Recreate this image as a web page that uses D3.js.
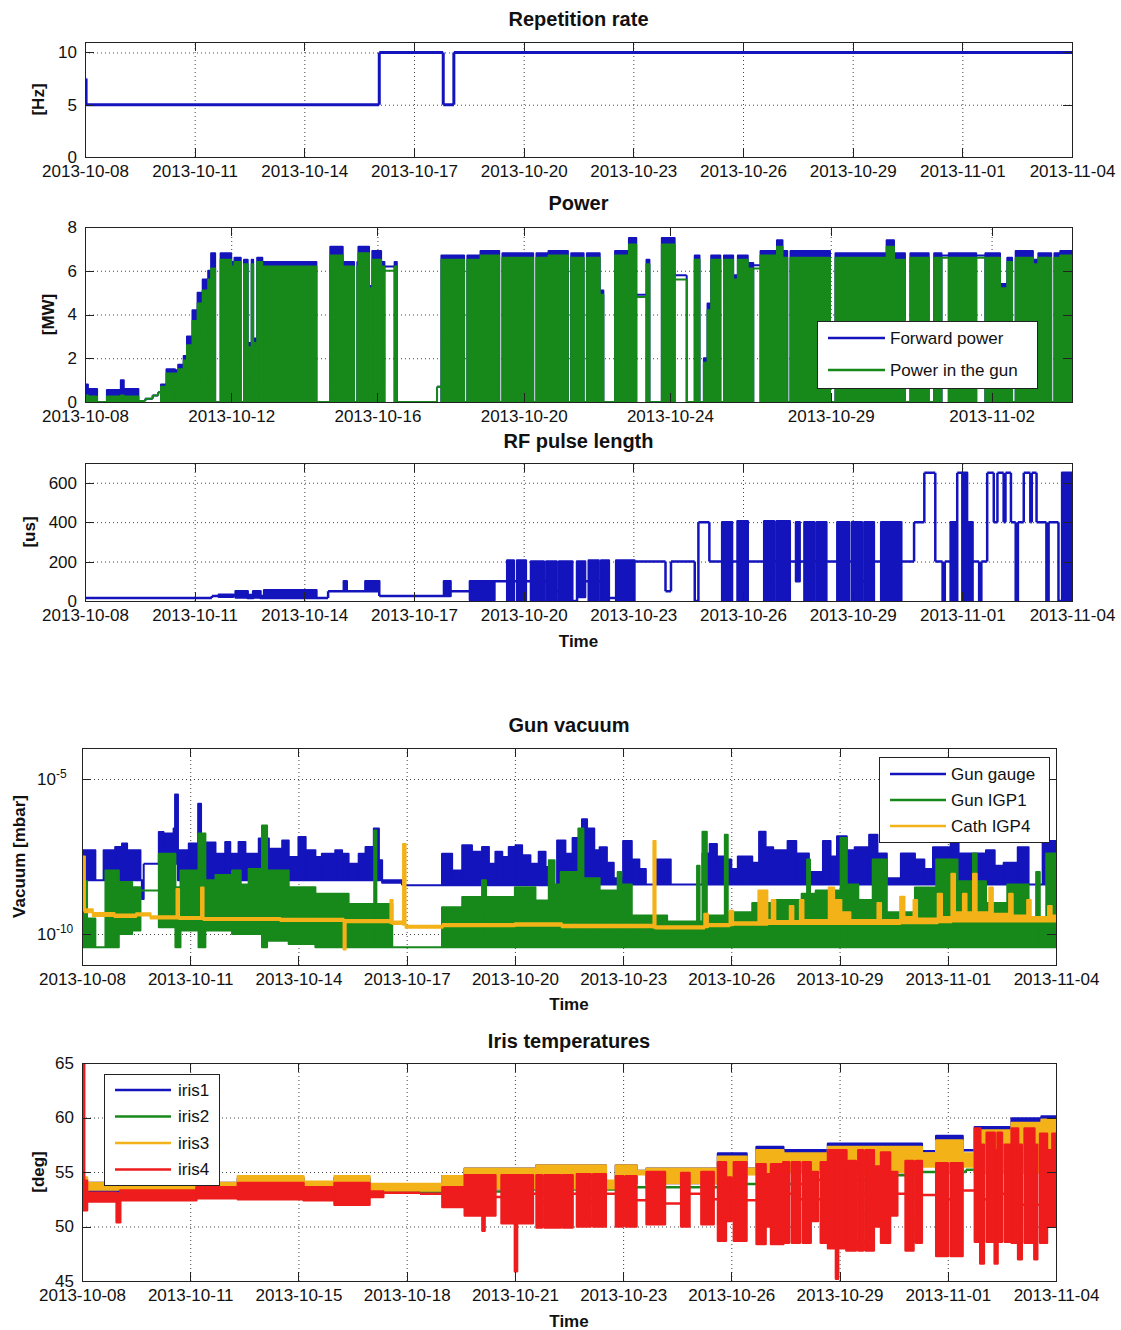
<!DOCTYPE html>
<html>
<head>
<meta charset="utf-8">
<script src="https://cdn.jsdelivr.net/npm/d3@7/dist/d3.min.js"></script>
<style>
  body { margin: 0; background: #fff; }
  svg text { font-family: "Liberation Sans", Arial, sans-serif; fill: #111; }
  .tick text { font-size: 17px; }
  .grid line { stroke: #444; stroke-dasharray: 1,3; }
  .grid path { display: none; }
  .ax path, .ax line { stroke: #222; shape-rendering: crispEdges; }
  .title { font-size: 20px; font-weight: bold; }
  .lab { font-size: 17px; font-weight: bold; }
  .leg text { font-size: 17px; }
</style>
</head>
<body>
<svg width="1121" height="1330"></svg>
<script>
// all times are days since 2013-10-08 00:00
var dayTicks = [0, 3, 6, 9, 12, 15, 18, 21, 24, 27];
var dayLabels = ["2013-10-08","2013-10-11","2013-10-14","2013-10-17","2013-10-20",
                 "2013-10-23","2013-10-26","2013-10-29","2013-11-01","2013-11-04"];
var powerTickDays = [0, 4, 8, 12, 16, 20.4, 24.8];
var powerLabels = ["2013-10-08","2013-10-12","2013-10-16","2013-10-20","2013-10-24","2013-10-29","2013-11-02"];
var irisLabels = ["2013-10-08","2013-10-11","2013-10-15","2013-10-18","2013-10-21",
                  "2013-10-23","2013-10-26","2013-10-29","2013-11-01","2013-11-04"];

// rows: [day, value] or [day, low, high] (fast switching drawn as a band), held until next row
var repRate = [[0, 7.5], [0.03, 5], [8.05, 10], [9.8, 5], [10.09, 10]];

// [day, forward MW, gun MW, dense switching to 0 ? 1 : 0]
var power = [
  [0,0.8,0.3,1],[0.08,0.6,0.25,1],[0.33,0,0,0],[0.6,0.55,0.25,1],[0.98,1.0,0.3,1],[1.06,0.6,0.25,1],
  [1.46,0.05,0.05,0],[1.65,0.15,0.15,0],[1.85,0.3,0.3,0],[2.0,0.45,0.45,0],[2.08,0.8,0.7,1],
  [2.23,1.5,1.3,1],[2.46,1.45,1.3,1],[2.55,1.7,1.5,1],[2.7,2.1,1.9,1],[2.79,3.0,2.6,1],[2.94,4.2,3.7,1],
  [3.08,5.0,4.5,1],[3.22,5.6,5.1,1],[3.37,6.0,5.6,1],[3.45,6.8,6.1,1],[3.56,0,0,0],[3.71,6.8,6.5,1],
  [4.0,6.4,6.2,1],[4.09,6.6,6.4,1],[4.26,0,0,0],[4.35,6.5,6.3,1],[4.45,2.7,2.5,1],[4.56,6.5,6.3,1],
  [4.6,2.9,2.7,1],[4.71,6.6,6.4,1],[4.85,6.4,6.2,1],[6.33,0,0,0],[6.71,7.1,6.7,1],[7.05,6.4,6.2,1],
  [7.36,0,0,0],[7.45,6.4,6.2,1],[7.48,7.1,6.8,1],[7.77,5.3,5.2,1],[7.86,6.9,6.5,1],[8.1,6.4,6.2,1],
  [8.19,6.2,6.0,0],[8.47,6.4,6.2,1],[8.53,0,0,0],[9.63,0.7,0.7,0],[9.75,6.7,6.5,1],[10.37,0,0,0],
  [10.46,6.7,6.5,1],[10.82,6.9,6.7,1],[11.33,0,0,0],[11.42,6.8,6.6,1],[12.26,0,0,0],[12.35,6.8,6.6,1],
  [12.68,6.9,6.7,1],[13.21,0,0,0],[13.3,6.8,6.6,1],[13.64,0,0,0],[13.73,6.8,6.6,1],[14.08,5.1,4.9,1],
  [14.18,0,0,0],[14.5,6.9,6.7,1],[14.88,7.5,7.2,1],[15.08,4.9,4.8,0],[15.36,6.5,6.3,1],[15.44,0,0,0],
  [15.78,7.5,7.2,1],[16.13,5.8,5.6,0],[16.46,0,0,0],[16.68,6.7,6.5,1],[16.81,0,0,0],[16.93,2.0,1.8,1],
  [17.03,4.5,4.2,1],[17.13,6.7,6.5,1],[17.38,0,0,0],[17.48,6.7,6.5,1],[17.73,5.8,5.6,1],[17.86,6.7,6.5,1],
  [18.13,6.35,6.1,1],[18.28,6.25,6.1,0],[18.48,6.9,6.7,1],[18.93,7.4,7.1,1],[19.08,6.9,6.6,1],
  [19.21,0,0,0],[19.3,6.9,6.6,1],[20.38,0,0,0],[20.53,6.8,6.6,1],[21.93,7.4,7.1,1],[22.13,6.8,6.5,1],
  [22.43,0,0,0],[22.58,6.8,6.6,1],[23.08,0,0,0],[23.23,6.8,6.6,1],[23.43,6.7,6.6,0],[23.63,6.8,6.6,1],
  [24.38,6.7,6.6,0],[24.63,6.8,6.6,1],[25.03,5.4,5.2,1],[25.23,6.6,6.4,1],[25.36,0,0,0],[25.46,6.9,6.6,1],
  [25.93,6.5,6.3,1],[26.08,6.8,6.6,1],[26.43,0,0,0],[26.52,6.8,6.6,1],[26.68,6.9,6.7,1]
];

var rfPulse = [
  [0,15],[3.47,25],[3.66,22,32],[4.05,30],[4.12,18,50],[4.45,15,30],[4.6,18,50],[4.8,15,25],[4.9,15,55],
  [6.33,15],[6.65,50],[7.08,50,100],[7.16,50],[7.67,50,100],[8.05,25],[9.82,25,100],[10.0,50],
  [10.53,5,100],[11.2,100],[11.55,0,205],[11.73,100],[11.82,0,205],[12.06,100],[12.2,0,200],[12.55,100],
  [12.62,0,200],[12.9,50],[12.97,0,200],[13.33,0],[13.46,20,200],[13.68,100],[13.78,0,205],[14.05,100],
  [14.12,0,205],[14.33,15],[14.53,0,205],[15.03,200],[15.88,50],[16.03,200],[16.68,0],[16.78,400],
  [17.08,200],[17.43,0,400],[17.7,200],[17.85,0,405],[18.13,200],[18.58,0,405],[18.85,200],[18.92,0,405],
  [19.28,200],[19.45,100,400],[19.55,200],[19.68,0,400],[19.95,200],[20.02,0,400],[20.28,200],
  [20.58,0,400],[20.9,200],[20.98,0,400],[21.25,100],[21.32,0,400],[21.58,200],[21.78,0,400],[22.33,200],
  [22.68,400],[22.96,650],[23.26,200],[23.46,0],[23.52,200],[23.68,0,400],[23.86,650],[24.0,0,650],
  [24.13,0,400],[24.28,200],[24.46,0],[24.52,200],[24.68,650],[24.86,400],[24.96,650],[25.13,400],
  [25.18,650],[25.33,400],[25.46,0],[25.52,400],[25.68,650],[25.86,400],[25.9,650],[26.03,400],[26.3,0],
  [26.36,400],[26.63,0],[26.73,0,650]
];

// vacuum, log10(mbar)
var gaugeLog = [
  [0,-8.27,-7.3],[0.37,-8.27],[0.6,-8.27,-7.3],[0.92,-8.27,-7.19],[1.11,-8.27,-7.08],[1.25,-8.27,-7.3],
  [1.62,-8.27],[1.66,-8.87,-8.27],[1.71,-7.73],[2.13,-7.73,-6.71],[2.26,-7.73,-6.76],[2.54,-7.73,-6.6],
  [2.58,-7.73,-5.5],[2.66,-8.27,-7.3],[2.96,-8.27,-7.08],[3.22,-8.27,-5.8],[3.3,-8.27,-7.05],
  [3.7,-8.27,-7.41],[3.97,-8.27,-7.03],[4.11,-8.27,-7.41],[4.34,-8.27,-7.03],[4.53,-8.27,-7.41],
  [4.9,-8.27,-6.92],[5.18,-8.27,-7.25],[5.55,-8.27,-6.98],[5.73,-8.27,-7.52],[6.0,-8.27,-6.87],
  [6.2,-8.27,-7.3],[6.47,-8.27,-7.52],[6.65,-8.27,-7.41],[7.02,-8.27,-7.3],[7.21,-8.27,-7.41],
  [7.39,-8.27,-7.73],[7.67,-8.27,-7.41],[7.86,-8.27,-7.19],[8.09,-8.27,-6.6],[8.23,-8.27,-7.62],
  [8.32,-8.35,-8.27],[8.87,-8.43],[9.98,-8.43,-7.41],[10.26,-8.43,-7.95],[10.54,-8.43,-7.14],
  [10.81,-8.43,-7.35],[11.09,-8.43,-7.19],[11.28,-8.43,-7.73],[11.46,-8.43,-7.35],[11.65,-8.43,-7.52],
  [11.83,-8.43,-7.19],[12.02,-8.43,-7.14],[12.2,-8.43,-7.46],[12.43,-8.43,-7.73],[12.66,-8.43,-7.35],
  [12.85,-8.43,-7.84],[13.03,-8.43],[13.17,-8.43,-6.98],[13.4,-8.43,-7.41],[13.6,-8.4,-6.9],
  [13.86,-8.4,-6.3],[14.0,-8.4,-6.6],[14.2,-8.4,-7.3],[14.35,-8.4,-7.2],[14.55,-8.4,-7.7],
  [14.74,-8.4,-8.2],[15.0,-8.4,-7.0],[15.24,-8.4,-7.6],[15.45,-8.4,-7.9],[15.63,-8.4],[15.92,-8.4,-7.6],
  [16.32,-8.4],[17.2,-8.4,-7.4],[17.4,-8.4,-7.1],[17.6,-8.4,-7.5],[17.79,-8.4,-7.6],[18.0,-8.4,-7.9],
  [18.18,-8.4,-7.5],[18.58,-8.4,-7.7],[18.77,-8.4,-6.7],[18.95,-8.4,-7.2],[19.16,-8.4,-7.3],
  [19.56,-8.4,-7.0],[19.8,-8.4,-7.4],[20.15,-8.4,-8.0],[20.54,-8.4,-7.0],[20.75,-8.4,-7.5],
  [20.93,-8.4,-6.85],[21.2,-8.4,-7.3],[21.42,-8.4,-7.2],[21.82,-8.4,-6.8],[22.05,-8.4,-7.4],
  [22.31,-8.4,-8.2],[22.7,-8.4,-7.4],[23.09,-8.4,-7.6],[23.35,-8.4,-7.9],[23.59,-8.4,-7.2],
  [24.08,-8.4,-6.9],[24.3,-8.4,-7.4],[24.57,-8.4,-7.4],[25.06,-8.4,-7.3],[25.3,-8.4,-7.8],
  [25.55,-8.4,-7.7],[25.94,-8.4,-7.2],[26.24,-8.4],[26.63,-8.4,-7.0]
];
var igp1Log = [
  [0,-10.43,-8.3],[0.14,-10.43,-9.5],[0.37,-10.43],[0.65,-10.43,-7.95],[1.02,-10.0,-8.32],
  [1.39,-9.89,-8.49],[1.62,-8.6],[2.13,-9.78,-7.41],[2.59,-10.43,-8.49],[2.73,-9.89,-7.95],
  [3.23,-10.43,-6.76],[3.42,-9.89,-8.27],[3.7,-9.89,-8.1],[4.16,-10.0,-7.95],[4.4,-10.0,-8.4],
  [4.62,-10.0,-7.9],[4.99,-10.43,-6.5],[5.13,-10.22,-7.95],[5.73,-10.32,-8.49],[6.47,-10.43,-8.7],
  [7.39,-10.43,-9.03],[8.1,-10.43,-6.66],[8.16,-10.43,-9.03],[8.6,-10.43],[9.98,-10.43,-9.14],
  [10.54,-10.43,-8.81],[11.09,-10.43,-8.27],[11.2,-10.43,-8.81],[12.0,-10.43,-8.49],[12.57,-10.43,-8.92],
  [12.94,-10.43,-7.62],[13.1,-10.43,-8.4],[13.27,-10.43,-8.0],[13.76,-10.43,-6.6],[13.9,-10.43,-8.2],
  [14.35,-10.43,-8.6],[14.85,-10.43,-8.0],[14.95,-10.43,-8.4],[15.24,-10.43,-9.4],[16.22,-10.43,-9.6],
  [17.05,-10.43,-7.8],[17.12,-10.43,-9.6],[17.2,-10.43,-6.7],[17.32,-10.43,-9.4],[17.82,-10.43,-6.8],
  [17.9,-10.43,-9.3],[18.58,-10.43,-9.0],[19.16,-10.43,-8.9],[19.95,-10.43,-8.7],[20.1,-10.43,-7.6],
  [20.18,-10.43,-8.7],[20.34,-10.43,-8.6],[21.03,-10.43,-6.9],[21.2,-10.43,-8.4],[21.52,-10.43,-8.9],
  [21.92,-10.43,-7.6],[22.31,-10.43,-9.3],[23.09,-10.43,-8.5],[23.68,-10.43,-7.6],[24.27,-10.43,-8.3],
  [24.7,-10.43,-7.4],[24.8,-10.43,-8.3],[25.06,-10.43,-9.0],[25.65,-10.43,-8.4],[26.24,-10.43,-9.6],
  [26.45,-10.43,-8.0],[26.55,-10.43,-9.6],[26.73,-10.43,-7.4]
];
var igp4Log = [
  [0,-9.24,-7.5],[0.08,-9.3,-9.2],[0.3,-9.42,-9.32],[0.9,-9.45,-9.37],[1.5,-9.4,-9.33],[1.9,-9.5,-9.43],
  [2.62,-9.5,-8.55],[2.69,-9.52,-9.45],[3.3,-9.52,-8.5],[3.37,-9.55,-9.48],[5.5,-9.58,-9.51],
  [7.25,-10.5,-9.55],[7.31,-9.62,-9.55],[8.55,-9.65,-8.9],[8.61,-9.68,-9.6],[8.9,-9.7,-7.1],
  [8.97,-9.8,-9.73],[10.0,-9.75,-9.68],[12.0,-9.73,-9.65],[13.3,-9.78,-9.7],[15.84,-9.8,-7.0],
  [15.9,-9.82,-9.75],[17.25,-9.78,-9.35],[17.35,-9.75,-9.68],[17.95,-9.72,-9.25],[18.05,-9.7,-9.62],
  [18.75,-9.7,-8.6],[19.0,-9.68,-9.55],[19.12,-9.68,-8.9],[19.22,-9.68,-9.58],[19.62,-9.68,-9.1],
  [19.72,-9.68,-9.58],[19.9,-9.68,-8.9],[20.0,-9.68,-9.55],[20.7,-9.68,-8.5],[20.85,-9.68,-8.9],
  [21.05,-9.68,-9.3],[21.3,-9.68,-9.55],[22.05,-9.68,-9.0],[22.15,-9.68,-9.55],[22.68,-9.65,-8.8],
  [22.8,-9.65,-9.45],[23.05,-9.65,-8.9],[23.15,-9.65,-9.5],[23.72,-9.62,-8.7],[23.84,-9.62,-9.45],
  [24.1,-9.6,-8.06],[24.2,-9.6,-9.3],[24.42,-9.6,-8.7],[24.52,-9.6,-9.3],[24.7,-9.6,-8.06],
  [24.8,-9.6,-9.3],[25.15,-9.6,-8.5],[25.25,-9.6,-9.35],[25.7,-9.6,-8.7],[25.8,-9.6,-9.4],
  [26.2,-9.6,-8.9],[26.3,-9.6,-9.45],[26.78,-9.6,-9.1],[26.88,-9.6,-9.4]
];

// iris temperatures, deg
var iris1 = [
  [0,53.2,54.0],[4.32,53.5,54.4],[6.14,53.3,54.0],[7.0,53.5,54.4],[7.97,53.2],[9.99,53.5,54.6],
  [10.61,53.5,55.3],[12.6,53.5,55.6],[14.52,54.0],[14.8,54.0,55.6],[15.37,55.1],[15.65,54.0,55.3],
  [17.63,54.5,56.7],[18.42,55.3],[18.7,55.0,57.3],[19.44,55.0,57.0],[20.68,55.0,57.6],[23.28,56.9],
  [23.68,55.0,58.3],[24.41,57.0],[24.75,55.0,59.1],[25.77,55.0,59.9],[26.6,55.5,60.1]
];
var iris2 = [
  [0,53.0],[8.35,53.2],[12,53.4],[15,53.6],[18,53.9],[20,54.3],[22,54.7],[23,55.0],[24.5,55.2],
  [25.5,55.6],[26.3,55.8]
];
var iris3 = [
  [0,52.5,54.5],[0.14,53.4,54.0],[3.17,53.3,54.0],[4.32,53.5,54.6],[6.14,53.3,54.1],[7.0,53.5,54.6],
  [7.97,53.3,53.9],[9.99,53.5,54.6],[10.61,53.5,55.3],[12.6,53.5,55.6],[14.52,53.5,54.2],
  [14.8,54.0,55.6],[15.37,54.8,55.1],[15.65,54.0,55.3],[17.63,54.5,56.4],[18.42,54.8,55.3],
  [18.7,55.0,57.0],[19.44,55.0,56.7],[20.68,55.0,57.3],[23.28,55.5,56.7],[23.68,55.0,57.9],
  [24.41,55.5,56.7],[24.75,55.0,58.8],[25.77,55.0,59.5],[26.6,55.5,59.8]
];
var iris4 = [
  [0,51.5,65],[0.06,51.5,54.2],[0.14,52.3,53.1],[0.96,50.4,53.0],[1.06,52.4,53.3],[3.17,52.6,53.6],
  [4.32,52.5,54.0],[6.14,52.4,53.6],[7.0,52.0,54.0],[7.97,52.7,53.2],[8.35,53.1],[9.37,53.0],
  [9.99,51.8,53.6],[10.61,51.0,54.7],[11.1,49.6,54.7],[11.16,51.0,54.7],[11.46,52.7],[11.63,50.3,54.7],
  [12.0,45.9,54.7],[12.06,50.3,54.7],[12.5,53.0],[12.6,49.9,54.7],[12.75,53.0],[12.82,49.9,54.7],
  [13.27,53.0],[13.33,49.9,54.7],[13.6,53.0],[13.72,50.0,54.8],[14.1,53.0],[14.17,50.0,54.8],
  [14.52,53.0],[14.8,50.0,54.6],[15.0,53.0],[15.07,50.0,54.6],[15.37,52.4],[15.65,50.2,55.0],
  [16.16,52.1],[16.61,50.0,54.9],[16.84,53.0],[17.17,50.2,55.0],[17.51,52.5],[17.63,48.7,55.9],
  [17.85,50.5,54.5],[18.0,52.5],[18.07,48.7,55.9],[18.42,52.4],[18.7,48.4,55.7],[18.95,50.0,54.8],
  [19.1,48.4,55.7],[19.44,48.5,55.9],[19.6,53.0],[19.68,48.5,55.9],[19.9,52.5],[19.98,48.5,55.9],
  [20.2,50.5,55.0],[20.4,52.5],[20.48,48.5,55.9],[20.68,48.0,57.0],[20.9,45.2,57.0],[20.96,48.0,57.0],
  [21.19,47.8,56.0],[21.45,52.5],[21.52,47.8,57.0],[21.65,53.0],[21.72,47.8,57.0],[21.95,50.0,55.5],
  [22.15,48.5,56.8],[22.4,51.0,55.0],[22.6,53.0],[22.83,47.8,56.0],[23.05,52.5],[23.12,48.5,56.0],
  [23.28,52.9],[23.68,47.3,55.8],[24.0,52.5],[24.08,47.3,55.8],[24.41,53.3],[24.75,48.6,59.0],
  [24.9,46.6,57.5],[25.0,52.5],[25.08,48.6,58.6],[25.3,46.6,57.0],[25.38,48.6,58.6],[25.5,53.0],
  [25.58,48.6,57.5],[25.77,48.5,59.0],[25.95,47.0,57.5],[26.05,52.0],[26.13,48.5,59.0],[26.4,47.0,57.5],
  [26.48,52.0],[26.56,48.5,58.5],[26.75,50.0,57.0],[26.9,50.0,58.5]
];

var BLUE = "#1414bd", GREEN = "#17891b", ORANGE = "#f4b219", RED = "#ee1c1c";

var svg = d3.select("svg");
var start = new Date(2013, 9, 8).getTime();
function at(d) { return new Date(start + d * 864e5); }

function bandPath(x, yv, rows) {
  var p = [];
  rows.forEach(function(r, i) {
    var nx = rows[i + 1];
    var x0 = x(at(r[0])), x1 = x(at(nx ? nx[0] : 27));
    var lo = r[1], hi = r.length > 2 ? r[2] : r[1];
    if (hi > lo) p.push("M" + x0 + "," + yv(lo) + "V" + yv(hi) + "H" + x1 + "V" + yv(lo) + "Z");
    else p.push("M" + x0 + "," + yv(lo) + "H" + x1);
    if (nx) {
      var nlo = nx[1], nhi = nx.length > 2 ? nx[2] : nx[1];
      p.push("M" + x1 + "," + yv(Math.min(lo, nlo)) + "V" + yv(Math.max(hi, nhi)));
    }
  });
  return p.join("");
}

function panel(o) {
  var w = o.right - o.left, h = o.bottom - o.top;
  var x = d3.scaleTime().domain([at(0), at(27)]).range([o.left, o.right]);
  var y = (o.log ? d3.scaleLog() : d3.scaleLinear()).domain(o.yDomain).range([o.bottom, o.top]);
  var yv = o.log ? function(v) { return y(Math.pow(10, v)); } : y;
  var xt = o.xTicks.map(at);
  var g = svg.append("g");

  svg.append("clipPath").attr("id", "c" + o.id)
    .append("rect").attr("x", o.left).attr("y", o.top).attr("width", w).attr("height", h);

  g.append("g").attr("class", "grid")
    .attr("transform", "translate(0," + o.bottom + ")")
    .call(d3.axisBottom(x).tickValues(xt).tickSize(-h).tickFormat(""));
  g.append("g").attr("class", "grid")
    .attr("transform", "translate(" + o.left + ",0)")
    .call(d3.axisLeft(y).tickValues(o.yTicks).tickSize(-w).tickFormat(""));

  var plot = g.append("g").attr("clip-path", "url(#c" + o.id + ")");
  o.series.forEach(function(s) {
    plot.append("path")
      .attr("d", bandPath(x, yv, s.data))
      .attr("fill", s.color).attr("stroke", s.color)
      .attr("stroke-width", s.width || 2)
      .attr("stroke-linejoin", "round");
  });

  // axes box, ticks pointing inwards like matlab
  g.append("g").attr("class", "ax").attr("transform", "translate(0," + o.bottom + ")")
    .call(d3.axisBottom(x).tickValues(xt).tickSizeInner(-9).tickSizeOuter(0).tickPadding(8)
      .tickFormat(function(d, i) { return o.xLabels[i]; }));
  g.append("g").attr("class", "ax").attr("transform", "translate(0," + o.top + ")")
    .call(d3.axisTop(x).tickValues(xt).tickSizeInner(-9).tickSizeOuter(0).tickFormat(""));
  var left = g.append("g").attr("class", "ax").attr("transform", "translate(" + o.left + ",0)")
    .call(d3.axisLeft(y).tickValues(o.yTicks).tickSizeInner(-9).tickSizeOuter(0).tickPadding(8)
      .tickFormat(o.log ? "" : d3.format("d")));
  g.append("g").attr("class", "ax").attr("transform", "translate(" + o.right + ",0)")
    .call(d3.axisRight(y).tickValues(o.yTicks).tickSizeInner(-9).tickSizeOuter(0).tickFormat(""));

  if (o.log) {
    left.selectAll(".tick text").each(function(d) {
      var e = Math.round(Math.log10(d));
      var t = d3.select(this).text("").attr("text-anchor", "start").attr("x", -45);
      t.append("tspan").text("10");
      t.append("tspan").attr("dy", "-0.55em").style("font-size", "12px").text(e);
    });
  }

  svg.append("text").attr("class", "title")
    .attr("x", (o.left + o.right) / 2).attr("y", o.titleY)
    .attr("text-anchor", "middle").text(o.title);
  svg.append("text").attr("class", "lab")
    .attr("transform", "translate(" + o.ylabX + "," + (o.top + o.bottom) / 2 + ") rotate(-90)")
    .attr("text-anchor", "middle").attr("dy", "0.35em").text(o.ylabel);
  if (o.timeY) {
    svg.append("text").attr("class", "lab")
      .attr("x", (o.left + o.right) / 2).attr("y", o.timeY)
      .attr("text-anchor", "middle").text("Time");
  }

  if (o.legend) {
    var L = o.legend;
    var lg = svg.append("g").attr("class", "leg");
    lg.append("rect").attr("x", L.x).attr("y", L.y).attr("width", L.w).attr("height", L.h)
      .attr("fill", "#fff").attr("stroke", "#222").attr("shape-rendering", "crispEdges");
    L.items.forEach(function(it, i) {
      var yy = L.y + L.first + i * L.step;
      lg.append("line").attr("x1", L.x + L.line0).attr("x2", L.x + L.line1)
        .attr("y1", yy).attr("y2", yy).attr("stroke", it[1]).attr("stroke-width", 2.5);
      lg.append("text").attr("x", L.x + L.text).attr("y", yy).attr("dy", "0.35em").text(it[0]);
    });
  }
}

panel({
  id: 1, left: 85, right: 1072, top: 42, bottom: 157,
  yDomain: [0, 11], yTicks: [0, 5, 10], xTicks: dayTicks, xLabels: dayLabels,
  title: "Repetition rate", titleY: 26, ylabel: "[Hz]", ylabX: 38,
  series: [{ data: repRate, color: BLUE, width: 3 }]
});

panel({
  id: 2, left: 85, right: 1072, top: 227, bottom: 402,
  yDomain: [0, 8], yTicks: [0, 2, 4, 6, 8], xTicks: powerTickDays, xLabels: powerLabels,
  title: "Power", titleY: 210, ylabel: "[MW]", ylabX: 48,
  series: [
    { data: power.map(function(r) { return r[3] ? [r[0], 0, r[1]] : [r[0], r[1]]; }), color: BLUE },
    { data: power.map(function(r) { return r[3] ? [r[0], 0, r[2]] : [r[0], r[2]]; }), color: GREEN }
  ],
  legend: { x: 817, y: 321, w: 220, h: 67, first: 17, step: 32, line0: 11, line1: 68, text: 73,
    items: [["Forward power", BLUE], ["Power in the gun", GREEN]] }
});

panel({
  id: 3, left: 85, right: 1072, top: 463, bottom: 601,
  yDomain: [0, 700], yTicks: [0, 200, 400, 600], xTicks: dayTicks, xLabels: dayLabels,
  title: "RF pulse length", titleY: 448, ylabel: "[us]", ylabX: 29, timeY: 647,
  series: [{ data: rfPulse, color: BLUE, width: 2.5 }]
});

panel({
  id: 4, left: 82, right: 1056, top: 748, bottom: 965, log: true,
  yDomain: [1e-11, 1e-4], yTicks: [1e-10, 1e-5], xTicks: dayTicks, xLabels: dayLabels,
  title: "Gun vacuum", titleY: 732, ylabel: "Vacuum [mbar]", ylabX: 19, timeY: 1010,
  series: [
    { data: gaugeLog, color: BLUE },
    { data: igp1Log, color: GREEN },
    { data: igp4Log, color: ORANGE }
  ],
  legend: { x: 879, y: 757, w: 170, h: 85, first: 17, step: 26, line0: 11, line1: 67, text: 72,
    items: [["Gun gauge", BLUE], ["Gun IGP1", GREEN], ["Cath IGP4", ORANGE]] }
});

panel({
  id: 5, left: 82, right: 1056, top: 1063, bottom: 1281,
  yDomain: [45, 65], yTicks: [45, 50, 55, 60, 65], xTicks: dayTicks, xLabels: irisLabels,
  title: "Iris temperatures", titleY: 1048, ylabel: "[deg]", ylabX: 38, timeY: 1327,
  series: [
    { data: iris1, color: BLUE, width: 2.5 },
    { data: iris2, color: GREEN, width: 2.5 },
    { data: iris3, color: ORANGE, width: 2.5 },
    { data: iris4, color: RED, width: 2.5 }
  ],
  legend: { x: 104, y: 1074, w: 115, h: 111, first: 16, step: 26.5, line0: 11, line1: 67, text: 74,
    items: [["iris1", BLUE], ["iris2", GREEN], ["iris3", ORANGE], ["iris4", RED]] }
});
</script>
</body>
</html>
